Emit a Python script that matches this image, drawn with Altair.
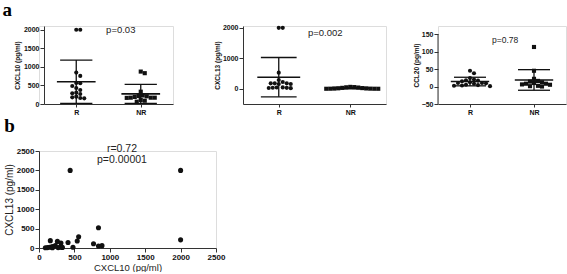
import altair as alt
import pandas as pd
import numpy as np

# ---------------- data ----------------
groups = ["R", "NR"]

cxcl10_R = [2000, 2000, 846, 757, 568, 559, 486, 432, 378, 306, 288, 270, 198, 180, 162, 153]
cxcl10_NR = [873, 830, 332, 230, 216, 208, 190, 170, 170, 170, 165, 108, 89, 62]

cxcl13_R = [2000, 2000, 528, 287, 221, 178, 178, 178, 155, 155, 45, 40, 35, 30, 25, 20]
cxcl13_NR = [62, 55, 48, 40, 30, 22, 15, 10, 6, 4, 2, 1, 0, 0]

ccl20_R = [45, 38, 24, 20, 18, 17, 15, 12, 10, 10, 9, 8, 5, 4, 3, 2, 1]
ccl20_NR = [113, 45, 22, 16, 14, 12, 10, 8, 8, 6, 5, 2, 1, 0]

p_values = ["p=0.03", "p=0.002", "p=0.78"]
y_titles = ["CXCL10 (pg/ml)", "CXCL13 (pg/ml)", "CCL20 (pg/ml)"]

b_cxcl10 = [440, 2000, 2000, 840, 560, 540, 410, 770, 840, 890, 480, 160, 260, 310,
            90, 120, 150, 180, 200, 230, 270, 300, 330, 190]
b_cxcl13 = [2000, 2000, 210, 520, 290, 180, 140, 110, 50, 60, 20, 190, 170, 130,
            5, 10, 20, 30, 40, 60, 10, 20, 15, 5]
b_texts = ["r=0.72", "p=0.00001"]

FONT = "Liberation Sans"
SERIF = "Liberation Serif"
INK = "#111111"
AX = "#333333"


def swarm_offsets(values, px_per_unit, d):
    """deterministic beeswarm layout: pixel offsets so that dots do not overlap"""
    order = sorted(range(len(values)), key=lambda i: -values[i])
    placed = []
    offs = [0.0] * len(values)
    cands = [0.0]
    for j in range(1, 60):
        cands += [j * d * 0.5, -j * d * 0.5]
    for i in order:
        y = values[i] * px_per_unit
        chosen = cands[-1]
        for c in cands:
            if all((c - px) ** 2 + (y - py) ** 2 >= d * d for px, py in placed):
                chosen = c
                break
        placed.append((chosen, y))
        offs[i] = chosen
    return offs


def dot_panel(rvals, nrvals, ytitle, ydom, yticks, width, height, ptext, pxy,
              title_pad=2, axis_top=None, ptext_size=9.5, chart_title=None, inset=0):
    ppu = height / (ydom[1] - ydom[0])
    unit_px = width / 2.0
    rows, stats = [], []
    for gi, (g, vals) in enumerate(zip(groups, [rvals, nrvals])):
        offs = swarm_offsets(vals, ppu, 4.0)
        cx = gi + 0.5
        for v, o in zip(vals, offs):
            rows.append({"grp": g, "xp": cx + o / unit_px, "v": v})
        m = float(np.mean(vals))
        s = float(np.std(vals, ddof=1))
        stats.append({"grp": g, "cx": cx, "mean": m, "lo": m - s, "hi": m + s,
                      "m1": cx - 0.3, "m2": cx + 0.3, "s1": cx - 0.25, "s2": cx + 0.25})
    df = pd.DataFrame(rows)
    st = pd.DataFrame(stats)

    if inset:
        xscale = alt.Scale(domain=[0, 2], range=[inset, inset + width], nice=False, zero=False)
    else:
        xscale = alt.Scale(domain=[0, 2], nice=False, zero=False)
    yscale = alt.Scale(domain=ydom, nice=False, zero=False)
    xaxis = alt.Axis(values=[0.5, 1.5], labelExpr="datum.value < 1 ? 'R' : 'NR'",
                     title=None, grid=False, tickSize=3, labelPadding=1,
                     labelFontSize=7, labelFontWeight="bold", labelFont=FONT,
                     domainColor=AX, tickColor=AX, labelColor=INK, labelAngle=0,
                     labelFlush=False, labelOverlap=False)
    yaxis_kw = dict(values=yticks, format="d", title=ytitle, grid=False, tickSize=4,
                    labelPadding=1, labelFontSize=7, labelFontWeight="bold",
                    labelFont=FONT, titleFont=FONT, titleFontSize=6.5,
                    titleFontWeight="bold", titlePadding=title_pad,
                    domain=axis_top is None, domainColor=AX, tickColor=AX,
                    labelColor=INK, titleColor=INK, labelOverlap=False,
                    labelFlush=False)
    if inset:
        yaxis_kw["offset"] = -inset
    yaxis = alt.Axis(**yaxis_kw)

    def X(f):
        return alt.X(f, type="quantitative", scale=xscale, axis=xaxis)

    def Y(f):
        return alt.Y(f, type="quantitative", scale=yscale, axis=yaxis)

    pts = alt.Chart(df).mark_point(filled=True, size=17, opacity=1, color=INK).encode(
        x=X("xp"), y=Y("v"),
        shape=alt.Shape("grp:N", scale=alt.Scale(domain=groups, range=["circle", "square"]),
                        legend=None),
    )
    base = alt.Chart(st)
    mean_r = base.mark_rule(color=INK, strokeWidth=1.6, clip=True).encode(
        x=X("m1"), x2="m2:Q", y=Y("mean"))
    hi_r = base.mark_rule(color=INK, strokeWidth=1.3, clip=True).encode(
        x=X("s1"), x2="s2:Q", y=Y("hi"))
    lo_r = base.mark_rule(color=INK, strokeWidth=1.3, clip=True).encode(
        x=X("s1"), x2="s2:Q", y=Y("lo"))
    vert = base.mark_rule(color=INK, strokeWidth=1.3, clip=True).encode(
        x=X("cx"), y=Y("lo"), y2="hi:Q")
    txt = alt.Chart(pd.DataFrame({"t": [ptext], "tx": [pxy[0]], "ty": [pxy[1]]})).mark_text(
        font=FONT, fontSize=ptext_size, color="#222").encode(
        x=X("tx"), y=Y("ty"), text="t:N")
    layers = [pts, vert, mean_r, hi_r, lo_r, txt]
    if axis_top is not None:
        yline = alt.Chart(pd.DataFrame({"lx": [0], "a": [ydom[0]], "b": [axis_top]})).mark_rule(
            color=AX, strokeWidth=1).encode(x=X("lx"), y=Y("a"), y2="b:Q")
        layers.append(yline)
    props = dict(width=width + inset, height=height)
    if chart_title is not None:
        props["title"] = chart_title
    return alt.layer(*layers).properties(**props)


a_title = alt.TitleParams("a", anchor="start", font=SERIF, fontSize=19, fontWeight="bold",
                          color="#000", offset=5, dx=-12)
a1 = dot_panel(cxcl10_R, cxcl10_NR, y_titles[0], [0, 2100], [0, 500, 1000, 1500, 2000],
               129, 78, p_values[0], (1.19, 2000), title_pad=3, chart_title=a_title,
               inset=5)
a2 = dot_panel(cxcl13_R, cxcl13_NR, y_titles[1], [-500, 2060], [0, 1000, 2000],
               143, 78, p_values[1], (1.15, 1846))
a3 = dot_panel(ccl20_R, ccl20_NR, y_titles[2], [-50, 173], [-50, 0, 50, 100, 150],
               128, 78, p_values[2], (1.05, 134), axis_top=150, ptext_size=8.5)

# ---------------- panel b ----------------
ticks_b = [0, 500, 1000, 1500, 2000, 2500]
bx = alt.Axis(values=ticks_b, format="d", title="CXCL10 (pg/ml)", grid=False, tickSize=4,
              labelPadding=1, labelFontSize=8, labelFontWeight="bold", labelFont=FONT,
              titleFont=FONT, titleFontSize=9.5, titleFontWeight="normal", titlePadding=1,
              domainColor=AX, tickColor=AX, labelColor=INK, titleColor="#222",
              labelFlush=False, labelOverlap=False)
by = alt.Axis(values=ticks_b, format="d", title="CXCL13 (pg/ml)", grid=False, tickSize=4,
              labelPadding=1, labelFontSize=8, labelFontWeight="bold", labelFont=FONT,
              titleFont=FONT, titleFontSize=10, titleFontWeight="normal", titlePadding=2,
              domainColor=AX, tickColor=AX, labelColor=INK, titleColor="#222",
              labelFlush=False, labelOverlap=False)
bscale = alt.Scale(domain=[0, 2500], nice=False, zero=False)
bdf = pd.DataFrame({"x": b_cxcl10, "y": b_cxcl13})
bpts = alt.Chart(bdf).mark_circle(size=26, opacity=1, color=INK).encode(
    x=alt.X("x:Q", scale=bscale, axis=bx),
    y=alt.Y("y:Q", scale=bscale, axis=by),
)
btxt = alt.Chart(pd.DataFrame({"t": b_texts, "xx": [1172, 1172], "yy": [2545, 2270]})).mark_text(
    font=FONT, fontSize=10.5, color="#222").encode(
    x=alt.X("xx:Q", scale=bscale, axis=bx),
    y=alt.Y("yy:Q", scale=bscale, axis=by), text="t:N")
b = alt.layer(bpts, btxt).properties(
    width=177, height=97,
    title=alt.TitleParams("b", anchor="start", font=SERIF, fontSize=19,
                          fontWeight="bold", color="#000", offset=8, dx=0),
)

top_row = alt.hconcat(a1, alt.hconcat(a2, a3, spacing=25), spacing=39)
chart = alt.concat(top_row, b, columns=1, align="none", spacing=0).properties(
    padding={"left": 1, "top": 0, "right": 0, "bottom": 0},
).configure_view(stroke=None).configure_axis(labelOverlap=False).configure(
    background="white")

chart.save("out.html", embed_options={"renderer": "svg", "actions": False})
